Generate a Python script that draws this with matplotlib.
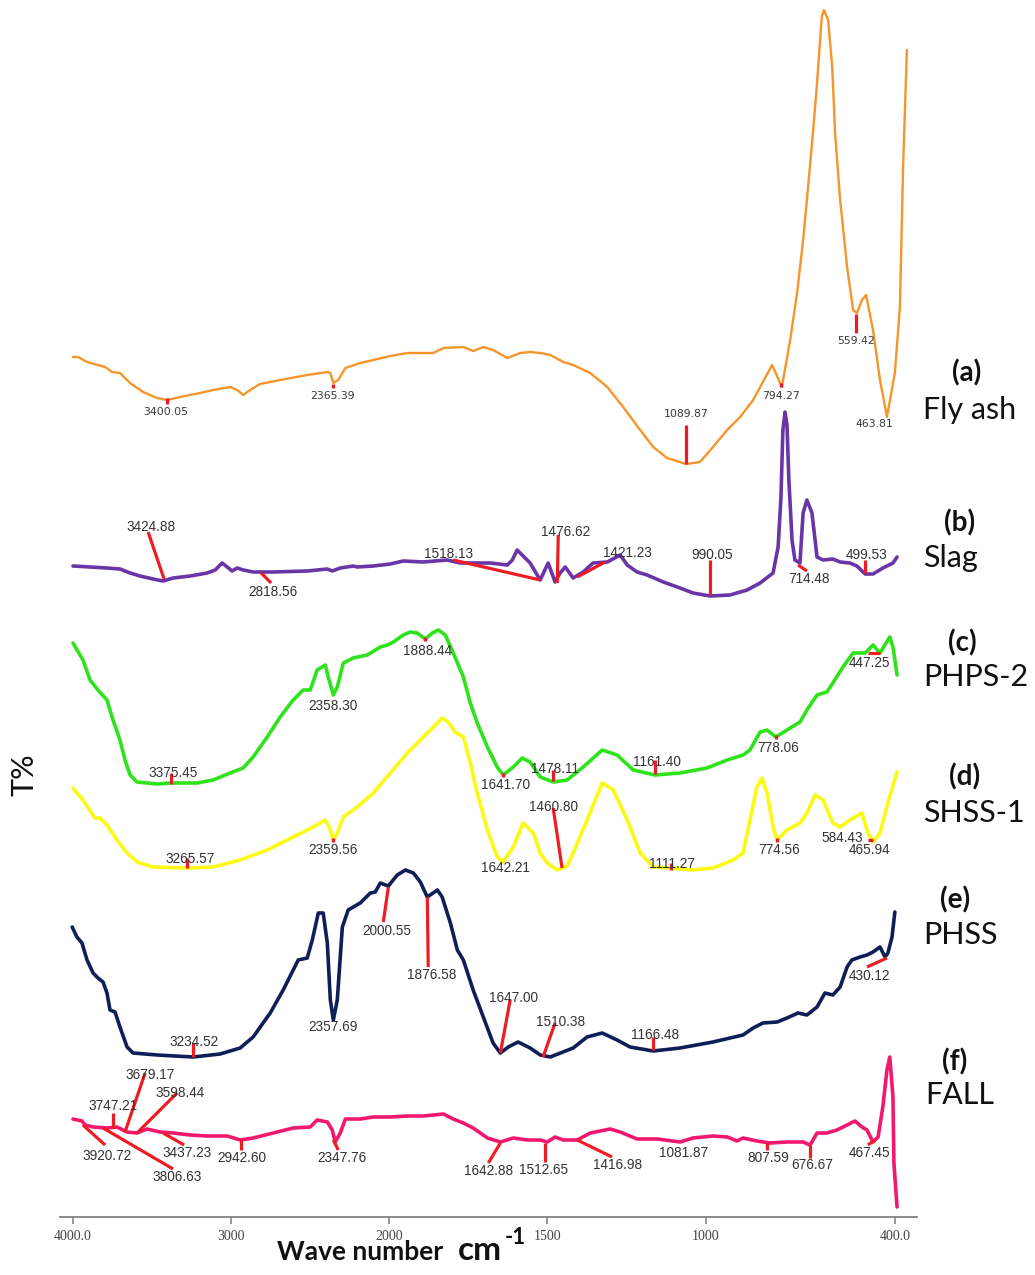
import numpy as np
import matplotlib
matplotlib.use("Agg")
import matplotlib.pyplot as plt

# ---------------- data (wavenumber cm-1, stacked T% in arbitrary offset units) ----------------
fly_ash_w = [4000,3968,3911,3797,3753,3703,3639,3557,3468,3405,3323,3196,3114,3006,2962,2924,2880,2817,2690,2519,
             2392,2373,2354,2323,2278,2184,2101,1997,1943,1861,1829,1766,1735,1703,1672,1627,1586,1555,1523,1491,
             1450,1419,1365,1311,1261,1207,1166,1122,1062,1018,977,932,891,850,790,759,733,711,692,680,
             661,648,633,626,613,600,591,575,553,534,522,506,493,471,449,427,402,386,376,364]
fly_ash_t = [860,860,855,850,845,844,834,825,819,817,820,824,827,830,827,822,827,833,837,842,
             845,844,834,837,849,854,857,861,864,864,869,870,866,870,867,859,864,865,864,862,
             855,852,844,830,810,787,770,759,753,755,770,787,800,817,852,830,877,924,977,1017,
             1084,1134,1200,1207,1197,1150,1084,1017,950,907,904,917,922,887,837,800,844,910,1050,1167]

slag_w = [4000,3892,3785,3703,3639,3576,3494,3430,3367,3259,3152,3101,3057,3025,2994,2962,2924,2861,2734,2519,
          2392,2361,2310,2228,2203,2101,1997,1956,1893,1817,1776,1681,1627,1611,1596,1580,1555,1523,1498,1476,
          1460,1444,1419,1387,1356,1311,1270,1248,1217,1185,1134,1081,1040,986,923,869,828,787,771,762,
          756,749,743,737,727,718,702,692,680,664,648,629,598,575,544,522,496,471,440,408,395]
slag_t = [651,650,649,648,644,641,638,636,639,641,644,647,654,650,646,649,647,645,645,646,
          648,646,649,651,650,651,653,656,655,657,654,654,652,657,667,662,654,637,654,635,
          644,650,639,645,654,655,662,652,645,642,635,629,624,621,622,627,634,644,670,720,
          787,805,792,737,677,657,654,704,717,704,660,657,658,655,654,651,643,643,649,654,660]

phps2_w = [4000,3937,3892,3842,3785,3747,3703,3671,3639,3595,3468,3386,3215,3114,3006,2924,2861,2772,2690,2608,
           2544,2500,2456,2405,2386,2354,2329,2291,2228,2139,2057,2013,1987,1956,1934,1912,1886,1864,1845,1823,
           1798,1766,1744,1722,1690,1659,1640,1608,1580,1555,1523,1482,1438,1387,1327,1280,1229,1160,1081,996,
           932,882,860,828,806,778,743,702,680,648,617,598,566,534,496,471,449,418,408,395]
phps2_t = [574,557,537,527,517,497,477,457,442,435,433,434,434,437,444,449,460,480,500,517,
           527,527,547,552,540,522,530,554,559,562,570,572,575,582,585,584,578,584,587,582,
           564,540,514,494,470,450,442,450,459,455,440,435,437,450,467,462,447,442,444,449,
           457,462,467,485,487,480,487,495,507,522,525,534,550,564,564,572,564,580,570,542]

shss1_w = [4000,3937,3861,3829,3785,3722,3658,3595,3494,3278,3114,2943,2772,2646,2544,2481,2405,2380,2354,2329,
           2291,2203,2101,1997,1943,1893,1861,1833,1814,1792,1766,1744,1722,1690,1659,1640,1608,1577,1545,1523,
           1501,1469,1438,1419,1375,1327,1292,1248,1207,1166,1112,1040,977,913,882,860,838,822,806,787,
           774,743,702,680,654,629,598,575,544,506,487,471,449,424,395]
shss1_t = [429,417,399,399,392,377,364,355,350,349,350,357,367,377,385,390,397,390,377,384,
           400,410,424,444,464,480,490,499,495,485,480,454,424,387,360,355,370,394,384,364,
           354,347,351,364,397,434,427,397,364,350,349,347,349,357,364,397,430,439,424,390,
           377,387,394,404,422,417,394,390,397,404,384,375,384,414,445]

phss_w = [4005,3975,3943,3911,3873,3842,3810,3785,3766,3734,3703,3658,3620,3468,3241,3070,2943,2861,2753,2671,
          2576,2519,2487,2449,2418,2392,2373,2354,2329,2297,2260,2228,2184,2120,2089,2057,2006,1975,1949,1924,
          1902,1880,1848,1833,1807,1785,1766,1735,1703,1672,1649,1624,1593,1555,1523,1491,1419,1375,1327,1280,
          1239,1166,1081,977,882,850,819,774,743,708,680,648,623,598,575,553,538,512,490,471,
          449,433,424,411,402]
phss_t = [290,280,274,257,244,239,235,224,207,205,190,170,164,162,160,163,169,180,204,227,
          257,259,277,304,304,274,217,197,217,290,307,310,314,324,325,334,331,342,347,344,
          335,320,327,320,294,267,257,227,200,174,164,170,175,169,162,160,169,180,184,177,
          170,166,169,175,182,189,194,195,199,204,202,210,224,222,230,250,257,260,262,265,
          270,260,264,280,305]

fall_w = [4000,3943,3924,3873,3785,3722,3658,3595,3532,3449,3367,3259,3152,3025,2943,2861,2734,2608,2500,2456,
          2392,2361,2342,2310,2278,2184,2101,1997,1943,1893,1829,1798,1766,1735,1690,1649,1608,1564,1523,1501,
          1476,1450,1406,1365,1302,1270,1217,1153,1081,1040,977,932,901,882,838,797,743,692,670,648,
          617,585,553,528,506,490,471,455,440,427,418,408,405,395]
fall_t = [98,96,92,90,89,90,85,84,88,85,84,82,81,81,77,79,84,89,90,97,
          95,87,75,84,98,98,100,100,101,101,103,98,94,89,79,75,79,77,77,75,
          80,77,77,84,88,85,78,78,75,79,81,80,76,79,76,74,75,75,72,84,
          84,87,92,96,90,87,75,80,110,147,160,120,54,10]

sample_tags = ["(a)", "(b)", "(c)", "(d)", "(e)", "(f)"]
sample_names = ["Fly ash", "Slag", "PHPS-2", "SHSS-1", "PHSS", "FALL"]

tick_values = [4000, 3000, 2000, 1500, 1000, 400]
tick_labels = ["4000.0", "3000", "2000", "1500", "1000", "400.0"]

# peak labels: (text, text_w, text_y, marker line (w1, y1, w2, y2) or None)
peaks_a = [("3400.05", 3411, 805, (3405, 819, 3405, 813)),
           ("2365.39", 2361, 821, (2354, 833, 2354, 829)),
           ("1089.87", 1062, 803, (1062, 792, 1062, 753)),
           ("794.27", 762, 821, (762, 834, 762, 830)),
           ("559.42", 525, 876, (525, 903, 525, 884)),
           ("463.81", 468, 793, None)]
peaks_b = [("3424.88", 3506, 690, (3525, 685, 3424, 638)),
           ("2818.56", 2734, 625, (2810, 644, 2747, 634)),
           ("1518.13", 1814, 663, (1798, 657, 1523, 637)),
           ("1476.62", 1444, 685, (1466, 682, 1469, 634)),
           ("1421.23", 1248, 664, (1406, 640, 1318, 655)),
           ("990.05", 980, 662, (986, 657, 986, 622)),
           ("714.48", 673, 638, (708, 652, 680, 646)),
           ("499.53", 490, 662, (496, 657, 496, 644))]
peaks_c = [("3375.45", 3367, 444, (3380, 444, 3380, 433)),
           ("2358.30", 2354, 511, None),
           ("1888.44", 1880, 566, (1886, 580, 1886, 576)),
           ("1641.70", 1634, 432, (1640, 444, 1640, 440)),
           ("1478.11", 1476, 448, (1482, 447, 1482, 436)),
           ("1161.40", 1153, 455, (1160, 457, 1160, 443)),
           ("778.06", 771, 469, (778, 482, 778, 478)),
           ("447.25", 481, 554, (487, 564, 449, 564))]
peaks_d = [("3265.57", 3259, 358, (3278, 359, 3278, 349)),
           ("2359.56", 2354, 367, (2354, 379, 2354, 375)),
           ("1642.21", 1634, 349, None),
           ("1460.80", 1482, 410, (1482, 409, 1454, 349)),
           ("1111.27", 1106, 353, (1109, 354, 1109, 347)),
           ("774.56", 768, 367, (774, 379, 774, 375)),
           ("584.43", 569, 379, None),
           ("465.94", 481, 367, (487, 377, 471, 377))]
peaks_e = [("3234.52", 3234, 175, (3241, 174, 3241, 160)),
           ("2357.69", 2354, 190, None),
           ("2000.55", 2013, 286, (2006, 330, 2038, 295)),
           ("1876.58", 1867, 242, (1880, 320, 1877, 250)),
           ("1647.00", 1608, 219, (1618, 217, 1649, 164)),
           ("1510.38", 1460, 195, (1476, 194, 1514, 160)),
           ("1166.48", 1160, 182, (1166, 180, 1166, 167)),
           ("430.12", 481, 241, (490, 250, 427, 259))]
peaks_f = [("3920.72", 3785, 61, (3937, 92, 3797, 72)),
           ("3806.63", 3342, 40, (3810, 89, 3367, 48)),
           ("3747.21", 3747, 111, (3747, 104, 3747, 89)),
           ("3679.17", 3513, 142, (3544, 144, 3671, 85)),
           ("3598.44", 3323, 124, (3342, 124, 3595, 84)),
           ("3437.23", 3278, 64, (3430, 84, 3297, 72)),
           ("2942.60", 2930, 59, (2937, 77, 2937, 67)),
           ("2347.76", 2297, 59, (2354, 77, 2323, 67)),
           ("1642.88", 1687, 46, (1649, 74, 1687, 54)),
           ("1512.65", 1514, 47, (1507, 74, 1507, 55)),
           ("1416.98", 1280, 52, (1406, 77, 1296, 60)),
           ("1081.87", 1071, 64, None),
           ("807.59", 803, 59, (806, 74, 806, 67)),
           ("676.67", 664, 52, (670, 72, 670, 59)),
           ("467.45", 481, 64, (487, 72, 465, 77))]

# ---------------- figure ----------------
W, H = 1035, 1275
fig = plt.figure(figsize=(W / 100, H / 100), dpi=100)
ax = fig.add_axes([60 / W, 58 / H, 857 / W, 1217 / H])


def fwd(w):
    w = np.asarray(w, dtype=float)
    return np.where(w > 2000, 2000 + (w - 2000) / 2.0, w)


def inv(u):
    u = np.asarray(u, dtype=float)
    return np.where(u > 2000, 2000 + (u - 2000) * 2.0, u)


ax.set_xscale("function", functions=(fwd, inv))
ax.set_xlim(4082, 332)
ax.set_ylim(0, 1217)

series = [
    (fly_ash_w, fly_ash_t, "#f5952a", 1.7, peaks_a),
    (slag_w, slag_t, "#6a35a6", 2.6, peaks_b),
    (phps2_w, phps2_t, "#2fe31c", 2.6, peaks_c),
    (shss1_w, shss1_t, "#fafa14", 2.6, peaks_d),
    (phss_w, phss_t, "#0e1f58", 2.6, peaks_e),
    (fall_w, fall_t, "#f2186e", 2.6, peaks_f),
]

red = "#ee1c24"
for i, (w, t, col, lw, peaks) in enumerate(series):
    ax.plot(w, t, color=col, lw=lw, solid_joinstyle="round", solid_capstyle="round", zorder=3)
    for (lab, tw, ty, line) in peaks:
        if line is not None:
            ax.plot([line[0], line[2]], [line[1], line[3]], color=red, lw=2.3,
                    solid_capstyle="butt", zorder=4)
        if i == 0:
            ax.text(tw, ty, lab, ha="center", va="center", fontsize=7.8,
                    family="DejaVu Sans", color="#3a3a3a", zorder=5)
        else:
            ax.text(tw, ty, lab, ha="center", va="center", fontsize=9.8,
                    family="Liberation Sans", color="#333333", zorder=5)

# axes styling
for s in ["top", "left", "right"]:
    ax.spines[s].set_visible(False)
ax.spines["bottom"].set_color("#808080")
ax.spines["bottom"].set_linewidth(1.3)
ax.set_yticks([])
ax.set_xticks(tick_values)
ax.set_xticklabels(tick_labels, family="Liberation Serif", fontsize=10, color="#444444")
ax.tick_params(axis="x", direction="out", length=5, width=1.1, color="#808080", pad=4)
ax.minorticks_off()

# right side sample labels (figure pixel placement)
tag_pos = [(967, 373), (960, 523), (962, 643), (965, 777), (955, 900), (955, 1062)]
name_pos = [(923, 410), (923, 558), (923, 677), (923, 813), (923, 935), (925, 1095)]
for tag, name, (tx, ty), (nx, ny) in zip(sample_tags, sample_names, tag_pos, name_pos):
    fig.text(tx / W, 1 - ty / H, tag, ha="center", va="center", fontsize=20,
             fontweight="bold", family="Lato", color="#111111")
    fig.text(nx / W, 1 - ny / H, name, ha="left", va="center", fontsize=22,
             family="Lato", color="#111111")

# axis titles
fig.text(25 / W, 1 - 775 / H, "T%", rotation=90, ha="center", va="center",
         fontsize=22, family="Lato", color="#111111")
fig.text(277 / W, 1 - 1252 / H, "Wave number", ha="left", va="center",
         fontsize=19, fontweight="bold", family="Lato", color="#111111")
fig.text(458 / W, 1 - 1250 / H, "cm", ha="left", va="center",
         fontsize=24, fontweight="bold", family="Lato", color="#111111")
fig.text(505 / W, 1 - 1237 / H, "-1", ha="left", va="center",
         fontsize=16, fontweight="bold", family="Lato", color="#111111")

fig.savefig("out.png", dpi=100, facecolor="white")
